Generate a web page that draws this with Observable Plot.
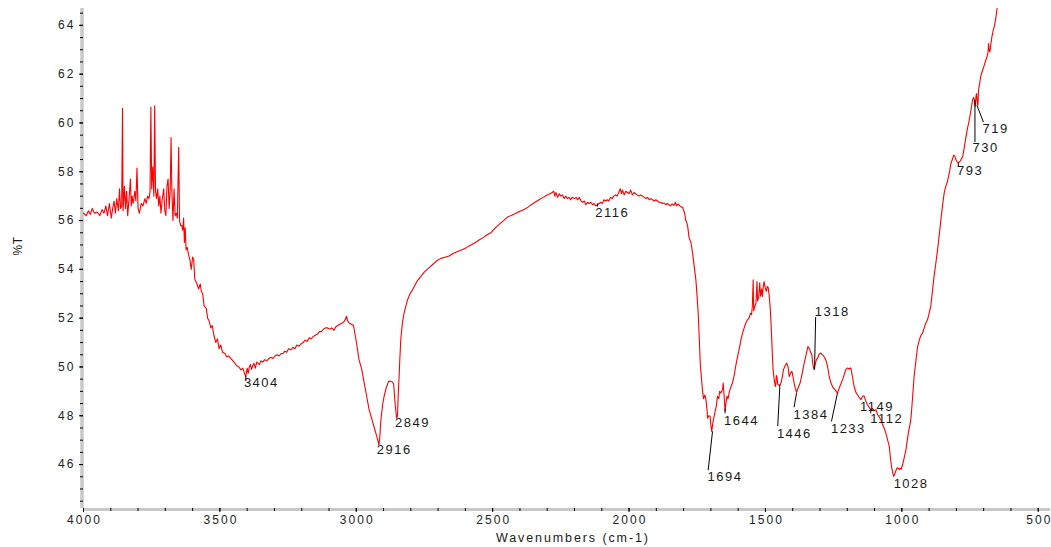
<!DOCTYPE html>
<html><head><meta charset="utf-8">
<script src="https://cdn.jsdelivr.net/npm/d3@7"></script>
<script src="https://cdn.jsdelivr.net/npm/@observablehq/plot@0.6"></script>
<style>
body{margin:0;background:#fff;}
svg{display:block}
</style>
</head><body><div id="chart"></div>
<script>
const wavenumbers = [
4000,3990,3982,3975,3968,3960,3950,3940,3932,3925,3918,3912,3905,3898,3893,3888,3883,3878,3872,3868,3864,3860,3857,3855,3850,3846,3842,3838,3833,3828,3825,3822,3818,3812,3808,3804,3800,3795,3788,3782,3775,3770,3765,3760,3756,3753,3750,3746,3742,3739,3736,3732,3728,3724,3720,3716,3712,3706,3702,3698,3694,3690,3686,3682,3679,3676,3672,3668,3664,3660,3656,3651,3648,3644,3640,3636,3633,3630,3627,3624,3620,3615,3610,3605,3600,3596,3592,3588,3584,3578,3572,3568,3563,3558,3550,
3545,3540,3533,3528,3522,3515,3509,3503,3497,3490,3482,3475,3468,3460,3452,3445,3438,3430,3423,3416,3410,3405,3400,3396,3392,3388,3384,3380,3375,3370,3365,3360,3355,3350,3343,3336,3328,3320,3313,3305,3298,3290,3283,3275,3268,3262,3255,3248,3240,3232,3225,3218,3210,3202,3195,3188,3180,3172,3165,3158,3150,3142,3135,3128,3120,3113,3105,3098,3090,3082,3075,3068,3060,3052,3045,3040,3036,3032,3026,3018,3010,3004,2998,2990,
2980,2971,2962,2953,2944,2935,2926,2920,2917,2914,2910,2904,2898,2890,2882,2875,2868,2863,2859,2856,2852,2849,2846,2843,2840,2837,2831,2825,2818,2812,2803,2794,2785,2775,2764,2750,2735,2720,2705,2690,2675,2660,2645,2629,2612,2595,2580,2568,2550,2535,2520,2507,2490,2475,2460,2445,2430,2415,2400,
2385,2370,2360,2345,2330,2315,2300,2290,2282,2276,2272,2268,2262,2256,2250,2244,2238,2232,2226,2220,2214,2208,2200,2194,2188,2182,2176,2170,2164,2158,2152,2146,2140,2134,2128,2122,2116,2110,2104,2098,2092,2086,2080,2074,2068,2062,2056,2050,2044,2038,2032,2028,2024,2018,2012,2006,2000,1994,1988,1982,1976,1970,1964,1958,1950,1944,1938,1932,1926,1920,1914,1908,1902,1896,1890,1884,1878,1872,1866,1860,1854,1848,1842,1836,1830,1826,1820,1814,1808,1804,
1796,1792,1788,1785,1780,1773,1767,1761,1755,1750,1746,1742,1739,1735,1731,1727,1722,1718,1714,1712,1708,1703,1700,1697,1693,1688,1684,1680,1676,1671,1668,1664,1660,1657,1655,1652,1648,1645,1641,1637,1632,1626,1621,1614,1608,1602,1596,1590,1584,1578,1572,1566,1560,1555,1551,1548,1545,1543,1539,1535,1531,1529,1525,1521,1518,1514,1511,1508,1505,1501,1497,1493,1490,1486,1483,1480,1478,1475,1472,1468,1464,1462,1460,1458,1455,1452,1447,1443,1438,1434,1428,1422,1417,1413,1408,1403,1399,1395,1390,1386,1380,1373,1366,1358,1351,1344,1339,1334,1330,1326,1322,1318,1313,1309,1303,1297,1291,1285,1279,1272,1266,1260,1252,1244,1236,1229,1222,1217,1211,1205,1199,1193,1187,1181,1175,1168,1162,1156,1150,1146,1142,1138,1132,1126,1120,1114,1108,1101,1095,1089,1083,1077,1071,1065,1059,1052,1046,1042,1038,1034,1030,1026,1022,1018,1015,1010,1006,1003,
998,993,989,985,980,976,971,967,963,959,955,950,946,942,936,930,924,918,912,906,900,894,888,882,876,869,863,857,851,845,839,833,826,820,815,810,806,802,797,793,789,785,781,777,771,765,759,753,747,741,737,734,731,728,726,723,721,719,715,710,704,698,693,688,684,682,680,677,674,670,665,660,655,651,647
];
const transmittance = [
56.3,56.2,56.4,56.25,56.5,56.3,56.35,56.2,56.45,56.3,56.6,56.2,56.7,56.1,56.5,56.8,56.3,56.9,56.4,57.3,56.5,56.6,60.6,56.4,57.4,56.5,57.2,56.2,56.9,57.7,56.6,57.0,56.7,57.2,56.8,58.15,56.5,56.3,56.7,56.6,56.9,56.7,57.0,56.9,57.2,60.65,57.3,58.2,57.0,60.7,57.2,56.9,57.3,56.6,57.0,56.3,56.8,57.3,56.4,56.2,57.4,57.7,56.5,57.3,59.4,57.2,56.0,57.3,56.2,56.3,56.1,59.0,56.0,55.8,55.8,55.6,56.1,55.1,55.7,54.8,54.9,54.6,54.4,54.0,54.5,54.4,53.6,53.5,53.4,53.2,53.4,53.1,53.0,52.5,52.4,
52.0,51.9,51.6,51.7,51.3,51.0,51.15,50.75,50.9,50.6,50.55,50.42,50.45,50.35,50.25,50.15,50.05,50.0,49.88,49.95,49.75,49.6,49.95,49.75,50.0,50.1,49.9,50.05,50.15,49.95,50.2,50.15,50.1,50.25,50.2,50.3,50.25,50.35,50.4,50.35,50.45,50.5,50.45,50.55,50.55,50.65,50.6,50.75,50.7,50.8,50.75,50.9,50.85,50.95,51.0,51.1,51.05,51.2,51.15,51.25,51.3,51.35,51.45,51.45,51.55,51.6,51.6,51.55,51.6,51.5,51.65,51.7,51.75,51.8,51.85,51.95,52.08,51.9,51.8,51.75,51.7,51.3,50.9,50.3,
49.9,49.35,48.8,48.25,47.9,47.55,47.2,46.95,46.8,47.1,47.8,48.4,48.8,49.15,49.4,49.42,49.38,49.3,48.7,48.3,47.9,48.0,48.9,49.6,50.4,51.1,51.8,52.2,52.5,52.75,53.0,53.15,53.35,53.55,53.7,53.9,54.05,54.2,54.35,54.45,54.5,54.55,54.65,54.73,54.8,54.9,55.0,55.07,55.2,55.3,55.42,55.5,55.7,55.85,56.0,56.15,56.22,56.3,56.38,
56.45,56.55,56.64,56.75,56.85,56.95,57.05,57.1,57.15,57.2,57.0,57.15,56.95,57.1,57.0,57.05,56.9,57.0,56.9,56.95,56.85,56.95,56.9,56.95,56.85,56.95,56.8,56.75,56.8,56.65,56.75,56.7,56.75,56.65,56.7,56.6,56.65,56.7,56.75,56.7,56.85,56.8,56.85,56.8,56.95,56.9,57.0,57.05,57.0,57.15,57.3,57.1,57.25,57.05,57.2,57.15,57.1,57.25,57.05,57.15,57.1,57.05,57.0,57.05,57.0,56.95,56.9,56.95,56.85,56.9,56.85,56.8,56.85,56.8,56.75,56.75,56.7,56.72,56.65,56.7,56.65,56.6,56.68,56.62,56.75,56.6,56.68,56.6,56.55,56.55,
56.3,56.0,55.9,55.75,55.3,55.1,54.66,54.1,53.57,52.8,52.07,51.0,50.16,49.6,49.07,48.7,48.85,48.66,48.2,47.9,48.0,47.98,47.6,47.36,47.7,47.98,48.2,48.4,48.8,48.7,49.0,48.93,49.0,49.1,49.34,48.9,48.2,48.5,48.8,48.7,49.0,49.2,49.34,49.7,50.1,50.43,50.75,51.1,51.39,51.6,51.8,51.93,52.0,52.2,52.14,52.5,53.57,52.3,52.48,52.6,53.5,52.7,52.85,53.45,52.9,53.2,52.89,53.3,53.5,53.25,53.1,53.3,53.25,52.9,52.48,51.9,51.39,50.6,49.89,49.5,49.2,49.27,49.65,49.61,49.3,49.27,49.25,49.34,49.6,49.89,50.05,50.16,50.0,49.61,49.75,49.82,49.6,49.34,49.1,48.96,49.15,49.34,49.7,50.16,50.5,50.84,50.75,50.6,50.5,50.1,49.89,50.1,50.3,50.36,50.52,50.57,50.5,50.42,50.3,50.0,49.6,49.34,49.15,49.05,48.93,49.15,49.35,49.48,49.7,49.9,49.96,49.92,49.96,49.6,49.2,48.95,48.85,48.75,48.66,48.75,48.82,48.8,48.6,48.45,48.35,48.25,48.3,48.2,48.25,48.05,47.95,47.84,47.65,47.5,47.3,47.0,46.75,46.3,45.93,45.7,45.52,45.6,45.75,45.85,45.87,45.8,45.85,45.8,
45.95,46.2,46.4,46.6,47.0,47.3,47.6,47.85,48.4,49.0,49.61,50.1,50.5,50.84,51.1,51.3,51.39,51.6,51.8,51.93,52.2,52.48,53.1,53.7,54.2,54.8,55.4,56.02,56.6,57.11,57.4,57.59,57.95,58.34,58.5,58.68,58.65,58.5,58.4,58.37,58.4,58.45,58.55,58.61,59.0,59.43,59.8,60.11,60.5,60.93,61.05,60.95,60.68,61.1,61.2,60.8,60.73,61.34,61.6,61.95,62.15,62.36,62.55,62.7,62.9,63.25,63.0,62.91,63.2,63.52,63.79,64.0,64.34,64.68,65.0
];

const peakLabels = ["3404","2916","2849","2116","1694","1644","1446","1384","1318","1233","1149","1112","1028","793","730","719"];
const labelX = [3412,2925,2858,2124,1712,1652,1458,1397,1319,1260,1153,1116,1030,798,741,704];
const labelY = [49.34,46.62,47.71,56.32,45.48,47.8,47.27,48.02,52.25,47.47,48.35,47.86,45.21,58.05,58.97,59.76];

const leaderX1 = [1710,1455,1395,1316,1258,732,701,3405,2116,1648,1114,793];
const leaderY1 = [45.77,47.57,48.35,52.04,47.77,59.22,60.04,49.43,56.57,48.1,48.1,58.2];
const leaderX2 = [1694,1447,1386,1320,1236,732,725,3405,2116,1648,1114,793];
const leaderY2 = [47.36,49.27,48.93,49.89,48.93,60.93,60.73,49.62,56.7,48.3,48.28,58.37];

const xMajorTicks = [4000,3500,3000,2500,2000,1500,1000,500];
const xMinorTicks = d3.range(500, 4001, 100);
const yMajorTicks = [46,48,50,52,54,56,58,60,62,64];
const yMinorTicks = d3.range(44.5, 64.6, 0.5);

const xTitle = "Wavenumbers (cm-1)";
const yTitle = "%T";

const spectrum = wavenumbers.map((w, i) => ({w, t: transmittance[i]}));
const labels = peakLabels.map((s, i) => ({s, x: labelX[i], y: labelY[i]}));
const leaders = leaderX1.map((x1, i) => ({x1, y1: leaderY1[i], x2: leaderX2[i], y2: leaderY2[i]}));

const chart = Plot.plot({
  width: 1051,
  height: 547,
  marginLeft: 83,
  marginRight: 1,
  marginTop: 8,
  marginBottom: 39,
  style: {fontFamily: "'Liberation Sans', Arial, sans-serif", background: "#fff", color: "#222"},
  x: {domain: [4000, 455]},
  y: {domain: [44.2, 64.69]},
  marks: [
    Plot.ruleX([4000], {stroke: "#c8c8c8", strokeWidth: 3.5, dx: -1.5}),
    Plot.ruleY([44.2], {stroke: "#c8c8c8", strokeWidth: 3, dy: 1}),
    Plot.axisX({ticks: xMinorTicks, tickSize: 3, tickFormat: () => "", label: null, stroke: "#000"}),
    Plot.axisX({ticks: xMajorTicks, tickSize: 4, tickPadding: 3, fontSize: 12, label: null, stroke: "#000", tickFormat: d => String(d)}),
    Plot.axisY({ticks: yMinorTicks, tickSize: 3, tickFormat: () => "", label: null, stroke: "#000"}),
    Plot.axisY({ticks: yMajorTicks, tickSize: 4, tickPadding: 6, fontSize: 12, label: null, stroke: "#000", tickFormat: d => String(d)}),
    Plot.line(spectrum, {x: "w", y: "t", stroke: "#ff0000", strokeWidth: 1.1, clip: true}),
    Plot.link(leaders, {x1: "x1", y1: "y1", x2: "x2", y2: "y2", stroke: "#000", strokeWidth: 1}),
    Plot.text(labels, {x: "x", y: "y", text: "s", textAnchor: "start", fontSize: 13, fill: "#1a1a1a"}),
    Plot.text([xTitle], {frameAnchor: "bottom", lineAnchor: "middle", dy: 29, dx: 5, fontSize: 12.5, fill: "#1a1a1a"}),
    Plot.text([yTitle], {frameAnchor: "left", lineAnchor: "middle", dx: -65, dy: -3, rotate: -90, fontSize: 12, fill: "#1a1a1a"})
  ]
});
document.getElementById("chart").appendChild(chart);

// widen glyph spacing (the reference uses tracked-out text) via SVG textLength
d3.select(chart).selectAll("text").each(function() {
  const s = this.textContent;
  if (!s || s.length < 2) return;
  let sp;
  if (s === xTitle) sp = 1.9;
  else if (s === yTitle) sp = 0.6;
  else if (peakLabels.includes(s)) sp = 1.5;
  else sp = 2.1;
  const w = this.getComputedTextLength();
  if (w > 0) {
    this.setAttribute("textLength", (w + (s.length - 1) * sp).toFixed(1));
    this.setAttribute("lengthAdjust", "spacing");
  }
});
</script>
</body></html>
